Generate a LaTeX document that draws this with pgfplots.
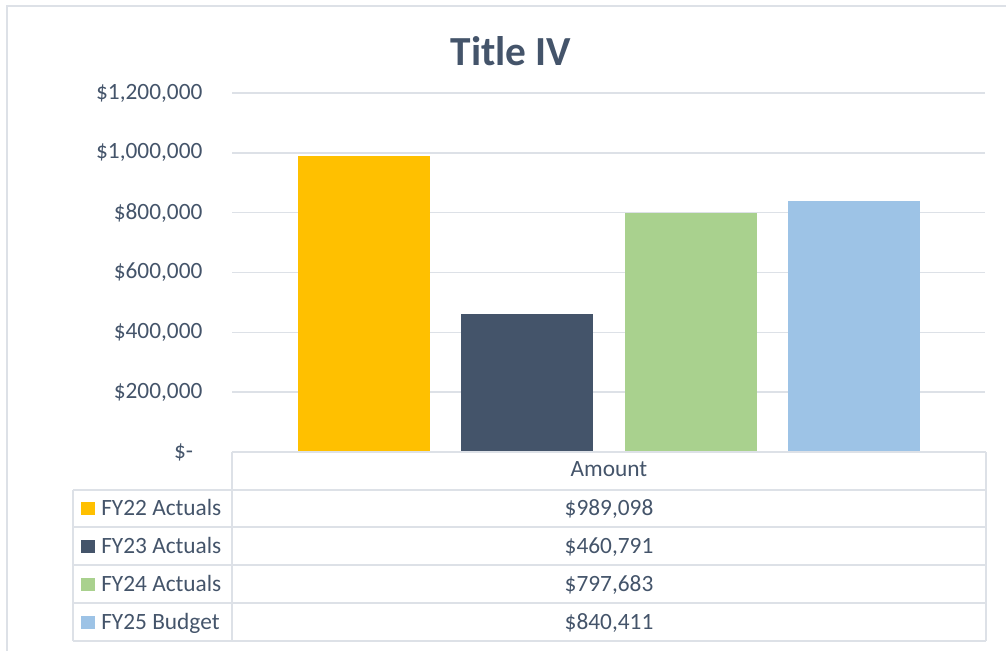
\documentclass[border=0pt]{standalone}
\usepackage{pgfplots}
\pgfplotsset{compat=1.18}
\usepackage{fontspec}
\setmainfont{Carlito}
\definecolor{txt}{HTML}{44546A}
\definecolor{gridc}{HTML}{DDE1E7}
\definecolor{fyA}{HTML}{FFC000}
\definecolor{fyB}{HTML}{44546A}
\definecolor{fyC}{HTML}{A9D18E}
\definecolor{fyD}{HTML}{9DC3E6}
\begin{document}
\begin{tikzpicture}[x=0.75pt,y=0.75pt]
\useasboundingbox (0,0) rectangle (1006,651);
% outer chart border (only top and left visible)
\draw[gridc, line width=1.3pt] (7,0) -- (7,645) -- (1006,645);
\node[txt, font=\fontsize{31}{37}\selectfont\bfseries, anchor=base] at (511,585) {Title IV};
\coordinate (plotSW) at (232,199);
\begin{axis}[
    at={(plotSW)}, anchor=south west,
    width=564.75pt, height=269.25pt, scale only axis,
    xmin=0, xmax=753, ymin=0, ymax=1200000,
    axis line style={draw=none},
    major tick length=0pt,
    xtick=\empty,
    ytick={0,200000,400000,600000,800000,1000000,1200000},
    yticklabels={{\$-\rule{7pt}{0pt}}, \$200{,}000, \$400{,}000, \$600{,}000, \$800{,}000, \$1{,}000{,}000, \$1{,}200{,}000},
    yticklabel style={font=\fontsize{17.5}{21}\selectfont, text=txt, inner sep=0pt, xshift=-22pt},
    scaled y ticks=false,
    ymajorgrids, grid style={gridc, line width=1.2pt},
    ybar=0pt, bar shift=0pt, bar width=132,
]
\addplot[fill=fyA, draw=none] coordinates {(131.5,989098)};
\addplot[fill=fyB, draw=none] coordinates {(295,460791)};
\addplot[fill=fyC, draw=none] coordinates {(458.5,797683)};
\addplot[fill=fyD, draw=none] coordinates {(622,840411)};
\end{axis}
% data table
\begin{scope}[gridc, line width=1.3pt]
\draw (232,199) -- (986,199);
\foreach \y in {161,124,86,48,10} \draw (73,\y) -- (986,\y);
\draw (232,199) -- (232,10);
\draw (986,199) -- (986,10);
\draw (73,161) -- (73,10);
\end{scope}
\begin{scope}[every node/.style={text=txt, font=\fontsize{17.5}{21}\selectfont, inner sep=0pt}]
\node[anchor=base] at (609,175) {Amount};
\fill[fyA] (81,136) rectangle (95,149);
\node[anchor=base west] at (101,136) {FY22 Actuals};
\node[anchor=base] at (609,136) {\$989,098};
\fill[fyB] (81,98) rectangle (95,111);
\node[anchor=base west] at (101,98) {FY23 Actuals};
\node[anchor=base] at (609,98) {\$460,791};
\fill[fyC] (81,60) rectangle (95,73);
\node[anchor=base west] at (101,60) {FY24 Actuals};
\node[anchor=base] at (609,60) {\$797,683};
\fill[fyD] (81,22) rectangle (95,35);
\node[anchor=base west] at (101,22) {FY25 Budget};
\node[anchor=base] at (609,22) {\$840,411};
\end{scope}
\end{tikzpicture}
\end{document}
